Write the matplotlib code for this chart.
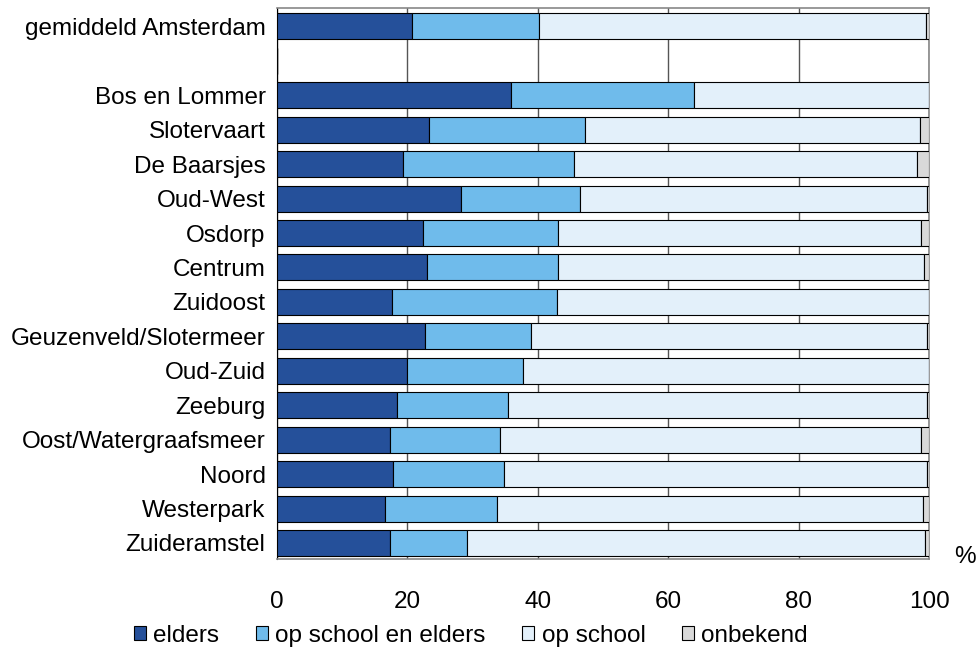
import numpy as np
import matplotlib
matplotlib.use("Agg")
import matplotlib.pyplot as plt

plt.rcParams['font.family'] = ['Liberation Sans', 'DejaVu Sans']

# top to bottom as in the chart; "" is the blank row under the average
labels = ["gemiddeld Amsterdam", "", "Bos en Lommer", "Slotervaart", "De Baarsjes",
          "Oud-West", "Osdorp", "Centrum", "Zuidoost", "Geuzenveld/Slotermeer",
          "Oud-Zuid", "Zeeburg", "Oost/Watergraafsmeer", "Noord", "Westerpark",
          "Zuideramstel"]

elders = [20.7, 0, 35.9, 23.3, 19.3, 28.3, 22.4, 23.1, 17.7, 22.7, 19.9, 18.5, 17.3, 17.8, 16.6, 17.3]
school_en_elders = [19.5, 0, 28.0, 24.0, 26.2, 18.1, 20.7, 20.0, 25.2, 16.3, 17.8, 17.0, 16.9, 17.0, 17.1, 11.9]
op_school = [59.3, 0, 36.1, 51.3, 52.6, 53.3, 55.7, 56.1, 57.0, 60.7, 62.2, 64.2, 64.6, 64.9, 65.3, 70.1]
onbekend = [0.5, 0, 0.0, 1.4, 1.9, 0.3, 1.2, 0.8, 0.1, 0.3, 0.1, 0.3, 1.2, 0.3, 1.0, 0.7]

series = [("elders", elders, "#25509A"),
          ("op school en elders", school_en_elders, "#6FBBEB"),
          ("op school", op_school, "#E3F0FA"),
          ("onbekend", onbekend, "#D9D9D9")]

fs = 17.5

fig = plt.figure(figsize=(9.77, 6.5), dpi=100)
ax = fig.add_axes([0.2832, 0.140, 0.668, 0.847])

n = len(labels)
y = np.arange(n)[::-1]
left = np.zeros(n)
for name, vals, col in series:
    vals = np.array(vals)
    ax.barh(y, vals, left=left, height=0.755, color=col, edgecolor="black",
            linewidth=0.8, label=name, zorder=3)
    left += vals

ax.set_xlim(0, 100)
ax.set_ylim(-0.465, n - 1 + 0.52)
ax.set_xticks([0, 20, 40, 60, 80, 100])
ax.set_yticks(y)
ax.set_yticklabels(labels)
ax.tick_params(axis="x", length=0, pad=23, labelsize=fs)
ax.tick_params(axis="y", length=0, pad=8, labelsize=fs)
ax.grid(axis="x", color="#555555", linewidth=1.0, zorder=0)

ax.spines["left"].set_color("black")
for s in ["top", "right", "bottom"]:
    ax.spines[s].set_color("#888888")
    ax.spines[s].set_linewidth(1.2)

fig.text(0.999, 0.143, "%", fontsize=fs, ha="right", va="center")

fig.legend(loc="center", bbox_to_anchor=(0.482, 0.022), ncol=4, frameon=False,
           fontsize=fs, handlelength=0.5, handleheight=0.5, handletextpad=0.3,
           columnspacing=1.5, borderaxespad=0)

fig.savefig("out.png", dpi=100)
